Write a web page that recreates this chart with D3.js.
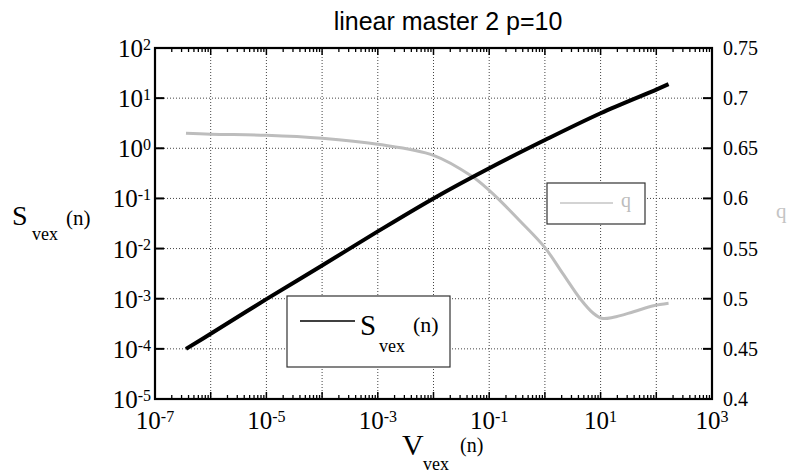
<!DOCTYPE html>
<html>
<head>
<meta charset="utf-8">
<script src="https://d3js.org/d3.v7.min.js"></script>
<style>
  body { margin: 0; background: #fff; }
  svg { display: block; }
  .grid line { stroke: #444; stroke-width: 1; stroke-dasharray: 1,2; }
</style>
</head>
<body>
<svg width="788" height="474"></svg>
<script>
// V_vex(n) values
var vS = [3.6e-7, 1e-6, 1e-5, 1e-4, 1e-3, 1e-2, 1e-1, 1, 10, 100, 166];
var sVex = [1.0e-4, 2.0e-4, 9.8e-4, 4.6e-3, 2.2e-2, 0.10, 0.40, 1.46, 5.0, 14.8, 19];

var vQ = [3.6e-7, 1e-6, 1e-5, 1e-4, 1e-3, 1e-2, 0.049, 0.1, 0.155, 0.35, 1, 2.1, 4.3, 7.4, 10.5, 17, 39, 89, 166];
var qVal = [0.665, 0.664, 0.663, 0.660, 0.654, 0.643, 0.622, 0.608, 0.598, 0.578, 0.551, 0.525, 0.500, 0.4855, 0.4805, 0.4815, 0.487, 0.493, 0.4955];

var xExp = [-7, -5, -3, -1, 1, 3];          // labelled x ticks
var yExp = [2, 1, 0, -1, -2, -3, -4, -5];    // labelled left ticks
var qTicks = [0.4, 0.45, 0.5, 0.55, 0.6, 0.65, 0.7, 0.75];

var L = 155, R = 712, T = 48, B = 399;
var svg = d3.select("svg");
var serif = "'Liberation Serif', 'DejaVu Serif', serif";

var x = d3.scaleLog().domain([1e-7, 1e3]).range([L, R]);
var yL = d3.scaleLog().domain([1e-5, 1e2]).range([B, T]);
var yR = d3.scaleLinear().domain([0.4, 0.75]).range([B, T]);

var decX = d3.range(-7, 4).map(function(e){ return Math.pow(10, e); });
var decY = d3.range(-5, 3).map(function(e){ return Math.pow(10, e); });

// dotted grid
var grid = svg.append("g").attr("class", "grid");
grid.selectAll(".gx").data(decX.slice(1, -1)).enter().append("line")
  .attr("x1", function(d){ return x(d); }).attr("x2", function(d){ return x(d); })
  .attr("y1", T).attr("y2", B);
grid.selectAll(".gy").data(decY.slice(1, -1)).enter().append("line")
  .attr("y1", function(d){ return yL(d); }).attr("y2", function(d){ return yL(d); })
  .attr("x1", L).attr("x2", R);

// minor ticks on top and bottom (2..9 each decade)
var minor = [];
decX.slice(0, -1).forEach(function(d){
  for (var k = 2; k <= 9; k++) minor.push(d * k);
});
function hTicks(yy, dir) {
  var g = svg.append("g").attr("stroke", "#000");
  g.selectAll(".mn").data(minor).enter().append("line")
    .attr("x1", function(d){ return x(d); }).attr("x2", function(d){ return x(d); })
    .attr("y1", yy).attr("y2", yy + dir * 4).attr("stroke-width", 1.3);
  g.selectAll(".mj").data(decX).enter().append("line")
    .attr("x1", function(d){ return x(d); }).attr("x2", function(d){ return x(d); })
    .attr("y1", yy).attr("y2", yy + dir * 7).attr("stroke-width", 1.5);
}
hTicks(B, -1);
hTicks(T, 1);

// left and right major ticks (inward)
svg.append("g").selectAll("line").data(decY).enter().append("line")
  .attr("x1", L).attr("x2", L + 9)
  .attr("y1", function(d){ return yL(d); }).attr("y2", function(d){ return yL(d); })
  .attr("stroke", "#000").attr("stroke-width", 2);
svg.append("g").selectAll("line").data(qTicks).enter().append("line")
  .attr("x1", R - 9).attr("x2", R)
  .attr("y1", function(d){ return yR(d); }).attr("y2", function(d){ return yR(d); })
  .attr("stroke", "#000").attr("stroke-width", 2);

// frame
svg.append("rect").attr("x", L).attr("y", T).attr("width", R - L).attr("height", B - T)
  .attr("fill", "none").attr("stroke", "#000").attr("stroke-width", 2.2);

// tick labels
function pow10(sel) {
  sel.append("tspan").text("10");
  sel.append("tspan").attr("dy", "-0.45em").attr("font-size", "16px")
    .text(function(d){ return d < 0 ? "-" + (-d) : d; });
}
svg.append("g").selectAll("text").data(xExp).enter().append("text")
  .attr("x", function(d){ return x(Math.pow(10, d)); }).attr("y", 429)
  .attr("text-anchor", "middle").attr("font-family", serif).attr("font-size", "25px")
  .call(pow10);
svg.append("g").selectAll("text").data(yExp).enter().append("text")
  .attr("x", 151).attr("y", function(d){ return yL(Math.pow(10, d)) + 9; })
  .attr("text-anchor", "end").attr("font-family", serif).attr("font-size", "25px")
  .call(pow10);
svg.append("g").selectAll("text").data(qTicks).enter().append("text")
  .attr("x", 723).attr("y", function(d){ return yR(d) + 7; })
  .attr("font-family", serif).attr("font-size", "20px")
  .text(function(d){ return d; });

// curves
var lineQ = d3.line().curve(d3.curveCatmullRom.alpha(0.5))
  .x(function(d, i){ return x(vQ[i]); }).y(function(d){ return yR(d); });
svg.append("path").datum(qVal).attr("d", lineQ)
  .attr("fill", "none").attr("stroke", "#bdbdbd").attr("stroke-width", 3);

var lineS = d3.line().curve(d3.curveCatmullRom.alpha(0.5))
  .x(function(d, i){ return x(vS[i]); }).y(function(d){ return yL(d); });
svg.append("path").datum(sVex).attr("d", lineS)
  .attr("fill", "none").attr("stroke", "#000").attr("stroke-width", 4);

// title
svg.append("text").attr("x", 448).attr("y", 30).attr("text-anchor", "middle")
  .attr("font-family", "'Liberation Sans', Arial, sans-serif").attr("font-size", "25px")
  .text("linear master 2 p=10");

// axis labels
var yl = svg.append("text").attr("font-family", serif);
yl.append("tspan").attr("x", 12).attr("y", 225).attr("font-size", "28px").text("S");
yl.append("tspan").attr("x", 32).attr("y", 240).attr("font-size", "18px").text("vex");
yl.append("tspan").attr("x", 66).attr("y", 225).attr("font-size", "21px").text("(n)");

var xl = svg.append("text").attr("font-family", serif);
xl.append("tspan").attr("x", 402).attr("y", 455).attr("font-size", "30px").text("V");
xl.append("tspan").attr("x", 423).attr("y", 470).attr("font-size", "18px").text("vex");
xl.append("tspan").attr("x", 460).attr("y", 452).attr("font-size", "20px").text("(n)");

svg.append("text").attr("x", 776).attr("y", 218).attr("font-family", serif)
  .attr("font-size", "21px").attr("fill", "#c4c4c4").text("q");

// legend S
svg.append("rect").attr("x", 287).attr("y", 296).attr("width", 163).attr("height", 71)
  .attr("fill", "#fff").attr("stroke", "#333").attr("stroke-width", 1.2);
svg.append("line").attr("x1", 300).attr("x2", 355).attr("y1", 321).attr("y2", 321)
  .attr("stroke", "#000").attr("stroke-width", 1.5);
var ls = svg.append("text").attr("font-family", serif);
ls.append("tspan").attr("x", 360).attr("y", 335).attr("font-size", "29px").text("S");
ls.append("tspan").attr("x", 379).attr("y", 352).attr("font-size", "18px").text("vex");
ls.append("tspan").attr("x", 413).attr("y", 332).attr("font-size", "22px").text("(n)");

// legend q
svg.append("rect").attr("x", 547).attr("y", 183).attr("width", 98).attr("height", 41)
  .attr("fill", "#fff").attr("stroke", "#333").attr("stroke-width", 1.2);
svg.append("line").attr("x1", 560).attr("x2", 613).attr("y1", 203).attr("y2", 203)
  .attr("stroke", "#c4c4c4").attr("stroke-width", 1.5);
svg.append("text").attr("x", 626).attr("y", 207)
  .attr("text-anchor", "middle")
  .attr("font-family", serif).attr("font-size", "20px").attr("fill", "#bdbdbd").text("q");
</script>
</body>
</html>
